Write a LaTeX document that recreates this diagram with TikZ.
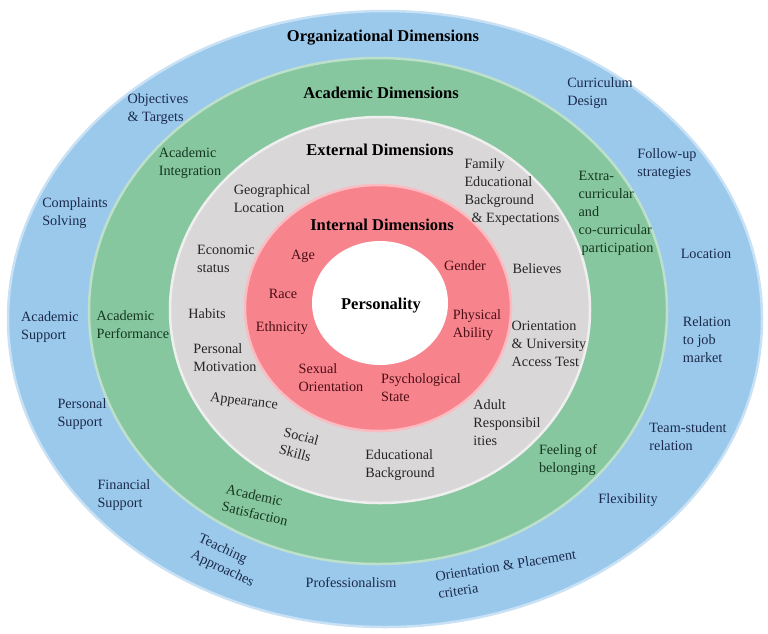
\documentclass[tikz,border=0pt]{standalone}
\usepackage{fontspec}
\setmainfont{Liberation Serif}
\newfontfamily\diagfont{Liberation Serif}
\usepackage{xcolor}
\usepackage{tikz}

\definecolor{orgBlue}{HTML}{9BC9EC}
\definecolor{acaGreen}{HTML}{87C7A0}
\definecolor{extGrey}{HTML}{D9D7D8}
\definecolor{intPink}{HTML}{F7838D}
\definecolor{orgText}{HTML}{1B2A4A}
\definecolor{acaText}{HTML}{14361F}
\definecolor{extText}{HTML}{262626}
\definecolor{intText}{HTML}{4A0E14}

\begin{document}
\begin{tikzpicture}
[x=1pt,y=-1pt,
ring/.style={line width=2.5pt},
lbl/.style={align=left,inner sep=0pt,
font=\diagfont\fontsize{14.2}{18}\selectfont},
orgLbl/.style={lbl,text=orgText},
acaLbl/.style={lbl,text=acaText},
extLbl/.style={lbl,text=extText},
intLbl/.style={lbl,text=intText},
head/.style={inner sep=0pt,
font=\diagfont\fontsize{16.5}{19}\selectfont\bfseries}]
\useasboundingbox (0,0) rectangle (768,633);

% rings
\filldraw[ring,fill=orgBlue,draw=orgBlue!55!white] (385,319) ellipse [x radius=377pt,y radius=308pt];
\filldraw[ring,fill=acaGreen,draw=acaGreen!55!white] (378,311) ellipse [x radius=289pt,y radius=253pt];
\filldraw[ring,fill=extGrey,draw=extGrey!40!white] (380,310) ellipse [x radius=210pt,y radius=193pt];
\filldraw[ring,fill=intPink,draw=intPink!55!white] (378,308) ellipse [x radius=133pt,y radius=123pt];
\fill[white] (380,303) ellipse [x radius=68pt,y radius=62pt];

% headings
\node[head] (org) at (383,38) {Organizational Dimensions};
\node[head] (aca) at (381,93) {Academic Dimensions};
\node[head] (ext) at (380,150) {External Dimensions};
\node[head] (int) at (382,225) {Internal Dimensions};
\node[head] (pers) at (381,306) {Personality};

% organizational
\node[orgLbl] (objectives) at (158,109) {Objectives\\\& Targets};
\node[orgLbl] (complaints) at (75,213) {Complaints\\Solving};
\node[orgLbl] (acsupport) at (50,327) {Academic\\Support};
\node[orgLbl] (persupport) at (82,414) {Personal\\Support};
\node[orgLbl] (finsupport) at (124,495) {Financial\\Support};
\node[orgLbl,rotate=-25] (teaching) at (226,561) {Teaching\\Approaches};
\node[orgLbl] (profession) at (351,583) {Professionalism};
\node[orgLbl,rotate=9] (placement) at (507,574) {Orientation \& Placement\\criteria};
\node[orgLbl] (flexibility) at (628,500) {Flexibility};
\node[orgLbl] (teamstudent) at (688,437) {Team-student\\relation};
\node[orgLbl] (jobmarket) at (707,340) {Relation\\to job\\market};
\node[orgLbl] (location) at (706,254) {Location};
\node[orgLbl] (followup) at (667,164) {Follow-up\\strategies};
\node[orgLbl] (curriculum) at (600,93) {Curriculum\\Design};

% academic
\node[acaLbl] (integration) at (190,163) {Academic\\Integration};
\node[acaLbl] (performance) at (133,325) {Academic\\Performance};
\node[acaLbl,rotate=-13] (satisfaction) at (257,505) {Academic\\Satisfaction};
\node[acaLbl] (belonging) at (568,460) {Feeling of\\belonging};
\node[acaLbl] (extracurr) at (616,213) {Extra-\\curricular\\and\\co-curricular\\\hspace{3pt}participation};

% external
\node[extLbl] (geographic) at (272,199) {Geographical\\Location};
\node[extLbl] (economic) at (226,259) {Economic\\status};
\node[extLbl] (habits) at (207,314) {Habits};
\node[extLbl] (motivation) at (225,358) {Personal\\Motivation};
\node[extLbl,rotate=-7] (appearance) at (244,402) {Appearance};
\node[extLbl,rotate=-15] (social) at (299,445) {Social\\Skills};
\node[extLbl] (edubg) at (400,465) {Educational\\Background};
\node[extLbl] (adult) at (507,423) {Adult\\Responsibil\\ities};
\node[extLbl] (access) at (549,344) {Orientation\\\& University\\Access Test};
\node[extLbl] (believes) at (537,269) {Believes};
\node[extLbl] (family) at (512,192) {Family\\Educational\\Background\\\hspace{7pt}\& Expectations};

% internal
\node[intLbl] (age) at (303,256) {Age};
\node[intLbl] (race) at (283,294) {Race};
\node[intLbl] (ethnicity) at (282,328) {Ethnicity};
\node[intLbl] (sexual) at (331,378) {Sexual\\Orientation};
\node[intLbl] (psycho) at (421,388) {Psychological\\State};
\node[intLbl] (physical) at (477,325) {Physical\\Ability};
\node[intLbl] (gender) at (465,266) {Gender};
\end{tikzpicture}
\end{document}
